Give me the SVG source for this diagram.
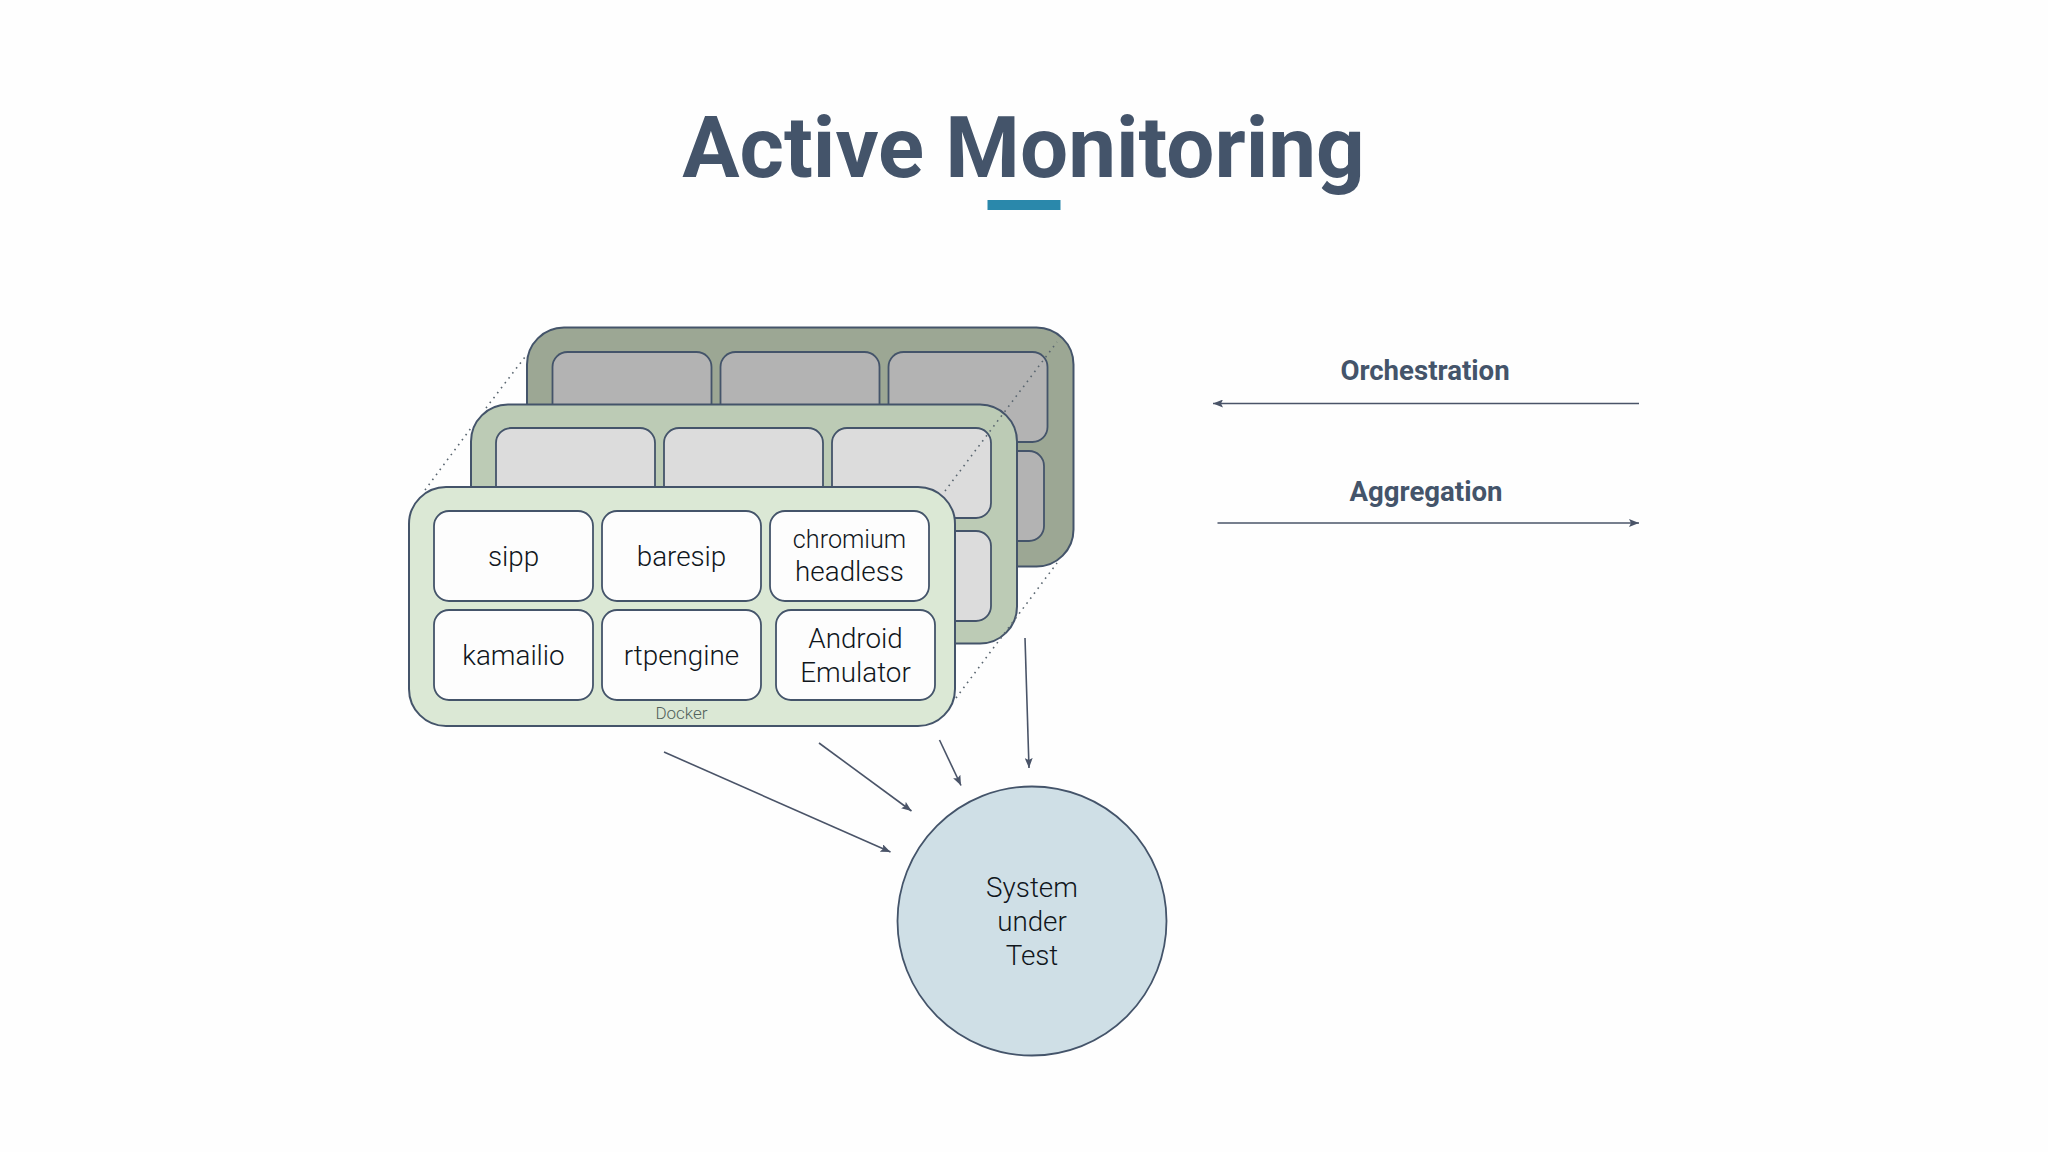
<svg xmlns="http://www.w3.org/2000/svg" width="2048" height="1152" viewBox="0 0 2048 1152">
<style>
.panel{stroke:#44546a;stroke-width:2}
.box{stroke:#44546a;stroke-width:1.8}
.bp{fill:#9ca794}.bb{fill:#b3b3b3}
.mp{fill:#bccbb5}.mb{fill:#dcdcdc}
.fp{fill:#dbe8d5}.fb{fill:#fdfdfd}
.lbl{font-family:Roboto,"Liberation Sans",sans-serif;font-weight:300;font-size:27.8px;fill:#10161c;text-anchor:middle}
.hd{font-family:Roboto,"Liberation Sans",sans-serif;font-weight:700;font-size:27.6px;fill:#44546a;text-anchor:middle}
.arrow{fill:none;stroke:#4a5468;stroke-width:1.6}
.dot{fill:none;stroke:#5a6670;stroke-width:1.6;stroke-dasharray:1.6 4.6}
</style>
<defs>
<marker id="ah" viewBox="0 0 10 8" refX="10" refY="4" markerWidth="10" markerHeight="8" markerUnits="userSpaceOnUse" orient="auto"><path d="M0 0L10 4L0 8L2 4Z" fill="#4a5468"/></marker>
</defs>
<rect width="2048" height="1152" fill="#fefefe"/>
<g id="title">
<text x="1023.5" y="176.5" font-family="Roboto,'Liberation Sans',sans-serif" font-weight="700" font-size="85.3" fill="#44546a" text-anchor="middle">Active Monitoring</text>
<rect x="987.500" y="200" width="73" height="10" fill="#2a88ab"/>
</g>
<g id="layer-back">
<rect class="panel bp" x="527" y="327.500" width="546.500" height="239" rx="37"/>
<rect class="box bb" x="552.500" y="352" width="159" height="120" rx="15"/>
<rect class="box bb" x="720.500" y="352" width="159" height="120" rx="15"/>
<rect class="box bb" x="888.500" y="352" width="159" height="90" rx="15"/>
<rect class="box bb" x="888.500" y="451" width="155.500" height="90" rx="15"/>
</g>
<g id="layer-middle">
<rect class="panel mp" x="471" y="404.500" width="546" height="239" rx="37"/>
<rect class="box mb" x="496" y="428" width="159" height="120" rx="15"/>
<rect class="box mb" x="664" y="428" width="159" height="120" rx="15"/>
<rect class="box mb" x="832" y="428" width="159" height="90" rx="15"/>
<rect class="box mb" x="832" y="531" width="159" height="90" rx="15"/>
</g>
<g id="connectors">
<path class="dot" d="M425 490L471 428"/>
<path class="dot" d="M486 408L525 357"/>
<path class="dot" d="M945 491L1057 342"/>
<path class="dot" d="M956 698L1057 563"/>
<path class="arrow" marker-end="url(#ah)" d="M664 752L890.500 852"/>
<path class="arrow" marker-end="url(#ah)" d="M819 743L911.500 811"/>
<path class="arrow" marker-end="url(#ah)" d="M939.500 740L961 785.500"/>
<path class="arrow" marker-end="url(#ah)" d="M1025 638L1029 768"/>
<path class="arrow" marker-end="url(#ah)" d="M1639 403.500L1213 403.500"/>
<path class="arrow" marker-end="url(#ah)" d="M1217.500 523L1639 523"/>
</g>
<g id="layer-front">
<rect class="panel fp" x="409" y="487" width="546" height="239" rx="37"/>
</g>
<g id="node-sipp"><rect class="box fb" x="434" y="511" width="159" height="90" rx="15"/><text class="lbl" x="513.500" y="566">sipp</text></g>
<g id="node-baresip"><rect class="box fb" x="602" y="511" width="159" height="90" rx="15"/><text class="lbl" x="681.500" y="566">baresip</text></g>
<g id="node-chromium"><rect class="box fb" x="770" y="511" width="159" height="90" rx="15"/><text class="lbl" x="849.500" y="548" style="font-size:25.2px">chromium</text><text class="lbl" x="849.500" y="581">headless</text></g>
<g id="node-kamailio"><rect class="box fb" x="434" y="610" width="159" height="90" rx="15"/><text class="lbl" x="513.500" y="664.500">kamailio</text></g>
<g id="node-rtpengine"><rect class="box fb" x="602" y="610" width="159" height="90" rx="15"/><text class="lbl" x="681.500" y="664.500">rtpengine</text></g>
<g id="node-android"><rect class="box fb" x="776" y="610" width="159" height="90" rx="15"/><text class="lbl" x="855.500" y="648">Android</text><text class="lbl" x="855.500" y="682">Emulator</text></g>
<text x="681.500" y="719" font-family="Roboto,'Liberation Sans',sans-serif" font-weight="300" font-size="17" fill="#52615c" text-anchor="middle">Docker</text>
<g id="node-sut"><circle cx="1032" cy="921" r="134.500" fill="#cfdfe6" stroke="#44546a" stroke-width="1.800"/>
<text class="lbl" x="1032" y="897">System</text><text class="lbl" x="1032" y="931">under</text><text class="lbl" x="1032" y="964.500">Test</text></g>
<g id="label-orchestration"><text class="hd" x="1425" y="380">Orchestration</text></g>
<g id="label-aggregation"><text class="hd" x="1426" y="501">Aggregation</text></g>
</svg>
